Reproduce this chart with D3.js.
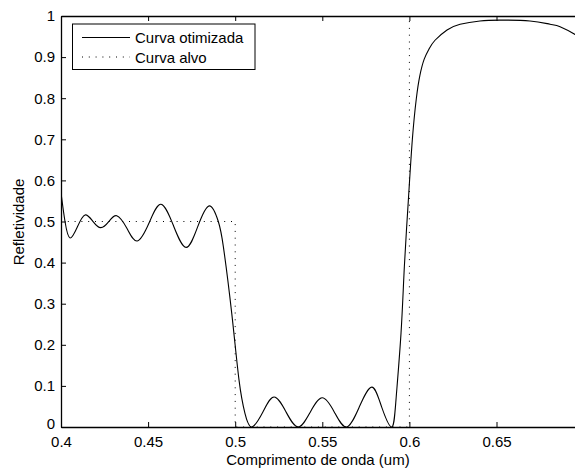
<!DOCTYPE html>
<html>
<head>
<meta charset="UTF-8">
<title>Refletividade</title>
<script src="https://cdn.jsdelivr.net/npm/d3@7"></script>
<style>
    body { margin:0; background:#fff; }
    svg text { font-family: "Liberation Sans", Arial, sans-serif; font-size:15px; fill:#000; }
</style>
</head>
<body>
<svg id="chart" width="575" height="468"></svg>
<script>
// curva otimizada
var lambdaOtim = [0.4000,0.4023,0.4052,0.4095,0.4138,0.4183,0.4228,0.4274,0.4320,0.4379,0.4438,0.4506,0.4574,
                  0.4646,0.4718,0.4785,0.4851,0.4903,0.4932,0.4980,0.5022,0.5056,0.5095,0.5159,0.5223,0.5292,
                  0.5361,0.5430,0.5500,0.5570,0.5640,0.5712,0.5784,0.5841,0.5898,0.5923,0.5952,0.5971,0.5994,
                  0.6017,0.6040,0.6060,0.6085,0.6113,0.6147,0.6216,0.6291,0.6405,0.6520,0.6692,0.6807,0.6865,
                  0.6951,0.7000];
var reflOtim   = [0.570,0.500,0.460,0.488,0.516,0.5005,0.485,0.4995,0.514,0.483,0.4526,0.497,0.542,
                  0.4895,0.437,0.4875,0.538,0.500,0.439,0.277,0.114,0.033,0.000,0.0365,0.073,0.0365,
                  0.000,0.0355,0.071,0.0355,0.000,0.0485,0.097,0.0485,0.000,0.066,0.229,0.390,0.552,
                  0.700,0.800,0.855,0.895,0.920,0.941,0.966,0.980,0.988,0.990,0.988,0.980,0.974,
                  0.955,0.940];
// curva alvo
var lambdaAlvo = [0.4,0.5,0.5,0.6,0.6,0.7];
var reflAlvo   = [0.5,0.5,0,0,1,1];

var xTicks = [0.4,0.45,0.5,0.55,0.6,0.65];
var yTicks = [0,0.1,0.2,0.3,0.4,0.5,0.6,0.7,0.8,0.9,1];
var legendas = ["Curva otimizada","Curva alvo"];

var svg = d3.select("#chart");
var mLeft=61, mTop=16, mBottom=427, mRight=583.6;

var x = d3.scaleLinear().domain([0.4,0.7]).range([mLeft,mRight]);
var y = d3.scaleLinear().domain([0,1]).range([mBottom,mTop]);

svg.append("defs").append("clipPath").attr("id","clip")
    .append("rect").attr("x",mLeft).attr("y",mTop).attr("width",mRight-mLeft).attr("height",mBottom-mTop);

var g = svg.append("g");

// linhas
var linha = d3.line().x(function(d){return x(d[0]);}).y(function(d){return y(d[1]);});
var dadosAlvo = lambdaAlvo.map(function(v,i){return [v,reflAlvo[i]];});
var dadosOtim = lambdaOtim.map(function(v,i){return [v,reflOtim[i]];});

g.append("path").datum(dadosAlvo)
    .attr("clip-path","url(#clip)")
    .attr("fill","none").attr("stroke","#000").attr("stroke-width",1)
    .attr("stroke-dasharray","1,5.8")
    .attr("d",linha);

g.append("path").datum(dadosOtim)
    .attr("clip-path","url(#clip)")
    .attr("fill","none").attr("stroke","#000").attr("stroke-width",1.1)
    .attr("d",linha.curve(d3.curveNatural));

// eixos
var xAxis = d3.axisBottom(x).tickValues(xTicks).tickSizeInner(-5).tickSizeOuter(0).tickPadding(9)
    .tickFormat(function(d){return +d.toFixed(2);});
var xTop = d3.axisTop(x).tickValues(xTicks).tickSizeInner(-5).tickSizeOuter(0).tickFormat("");
var yAxis = d3.axisLeft(y).tickValues(yTicks).tickSizeInner(-5).tickSizeOuter(0).tickPadding(6)
    .tickFormat(function(d){return +d.toFixed(1);});

var gx = g.append("g").attr("transform","translate(0,"+mBottom+")").call(xAxis);
var gt = g.append("g").attr("transform","translate(0,"+mTop+")").call(xTop);
var gy = g.append("g").attr("transform","translate("+mLeft+",0)").call(yAxis);

[gx,gt,gy].forEach(function(a){
    a.select(".domain").attr("stroke","#000").attr("stroke-width",1.3);
    a.selectAll(".tick line").attr("stroke","#000");
    a.selectAll("text").attr("font-size",15).attr("font-family","Liberation Sans, Arial, sans-serif");
});
// o "0" do eixo y fica um pouco acima, como no original
gy.selectAll(".tick text").filter(function(d){return d===0;}).attr("dy","0.1em");

// titulos dos eixos
svg.append("text").attr("x",(mLeft+575)/2).attr("y",465).attr("text-anchor","middle")
    .text("Comprimento de onda (um)");
svg.append("text").attr("transform","translate(24,222) rotate(-90)").attr("text-anchor","middle")
    .text("Refletividade");

// legenda
var leg = svg.append("g");
leg.append("rect").attr("x",72.5).attr("y",24).attr("width",182.5).attr("height",45.5)
    .attr("fill","#fff").attr("stroke","#000").attr("stroke-width",1);
legendas.forEach(function(t,i){
    var yy = 37.5 + i*19.5;
    leg.append("line").attr("x1",82).attr("x2",130).attr("y1",yy).attr("y2",yy)
        .attr("stroke","#000").attr("stroke-width",1)
        .attr("stroke-dasharray", i==1 ? "1,5.8" : null);
    leg.append("text").attr("x",135).attr("y",yy+5.5).text(t);
});
</script>
</body>
</html>
